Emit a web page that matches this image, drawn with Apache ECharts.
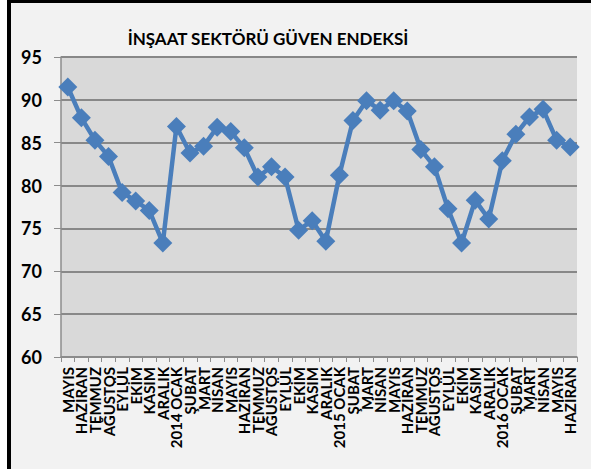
<!DOCTYPE html>
<html>
<head>
<meta charset="utf-8">
<script src="https://cdn.jsdelivr.net/npm/echarts@6/dist/echarts.min.js"></script>
<style>
  body { margin: 0; background: #ffffff; }
  #frame {
    position: absolute; left: 7px; top: 0; width: 584px; height: 469px;
    box-sizing: border-box; border-left: 4px solid #000; border-top: 3px solid #000;
    background: #f2f2f2;
  }
  #chart { position: absolute; left: 0; top: 0; width: 591px; height: 469px; }
</style>
</head>
<body>
<div id="frame"></div>
<div id="chart"></div>
<script>
// aylar
const months = [
  "MAYIS", "HAZİRAN", "TEMMUZ", "AĞUSTOS", "EYLÜL", "EKİM", "KASIM", "ARALIK",
  "2014 OCAK", "ŞUBAT", "MART", "NİSAN", "MAYIS", "HAZİRAN", "TEMMUZ", "AĞUSTOS",
  "EYLÜL", "EKİM", "KASIM", "ARALIK",
  "2015 OCAK", "ŞUBAT", "MART", "NİSAN", "MAYIS", "HAZİRAN", "TEMMUZ", "AĞUSTOS",
  "EYLÜL", "EKİM", "KASIM", "ARALIK",
  "2016 OCAK", "ŞUBAT", "MART", "NİSAN", "MAYIS", "HAZİRAN"
];
// endeks degerleri
const guvenEndeksi = [
  91.5, 87.9, 85.3, 83.4, 79.2, 78.2, 77.1, 73.3,
  86.9, 83.8, 84.6, 86.8, 86.3, 84.4, 81.0, 82.2,
  81.0, 74.8, 75.9, 73.5,
  81.2, 87.6, 89.9, 88.8, 89.9, 88.7, 84.2, 82.2,
  77.3, 73.3, 78.3, 76.1,
  82.9, 86.0, 88.0, 88.9, 85.3, 84.5
];
const yMin = 60, yMax = 95, yStep = 5;
const baslik = "İNŞAAT SEKTÖRÜ GÜVEN ENDEKSİ";

const myChart = echarts.init(document.getElementById("chart"), null, { renderer: "svg" });
const font = "Lato";
const option = {
  backgroundColor: "transparent",
  animation: false,
  graphic: [{
    type: "text",
    style: {
      text: baslik, x: 268, y: 38, align: "center", verticalAlign: "middle",
      fontFamily: font, fontWeight: "bold", fontSize: 17, fill: "#000"
    }
  }],
  grid: {
    left: 61, right: 14, top: 57, bottom: 112,
    show: true, backgroundColor: "#d9d9d9", borderWidth: 0
  },
  xAxis: {
    type: "category",
    data: months,
    boundaryGap: true,
    axisLine: { lineStyle: { color: "#8c8c8c", width: 1.5 } },
    axisTick: { show: true, length: 5, interval: 0, lineStyle: { color: "#8c8c8c" } },
    axisLabel: {
      interval: 0, rotate: 90, margin: 10,
      fontFamily: font, fontWeight: "bold", fontSize: 15, color: "#000"
    },
    splitLine: { show: false }
  },
  yAxis: {
    type: "value",
    min: yMin, max: yMax, interval: yStep,
    axisLine: { show: true, lineStyle: { color: "#8c8c8c", width: 1.5 } },
    axisTick: { show: true, length: 7, lineStyle: { color: "#8c8c8c" } },
    axisLabel: {
      margin: 19, fontFamily: font, fontWeight: "bold", fontSize: 18, color: "#000"
    },
    splitLine: { show: true, lineStyle: { color: "#888888", width: 2 } }
  },
  series: [{
    type: "line",
    data: guvenEndeksi,
    symbol: "diamond",
    symbolSize: 19,
    lineStyle: { color: "#4a7ebb", width: 4.5 },
    itemStyle: { color: "#4a7ebb" }
  }]
};
option && myChart.setOption(option);
</script>
</body>
</html>
